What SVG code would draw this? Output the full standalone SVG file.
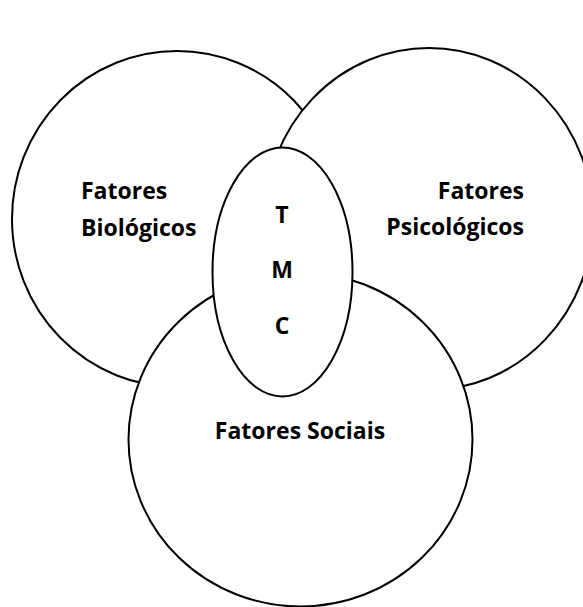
<svg xmlns="http://www.w3.org/2000/svg" width="583" height="607" viewBox="0 0 583 607">
  <style>
    .shape { fill: #ffffff; stroke: #000000; stroke-width: 2; }
    .lbl { font-family: "Open Sans", "Noto Sans", "Liberation Sans", sans-serif; font-weight: 700; font-size: 23px; fill: #000000; }
  </style>
  <rect x="0" y="0" width="583" height="607" fill="#ffffff"/>
  <g id="biologicos">
    <ellipse class="shape" cx="177" cy="219" rx="165" ry="168"/>
    <text class="lbl" x="81" y="199">Fatores</text>
    <text class="lbl" x="81" y="236">Biológicos</text>
  </g>
  <g id="psicologicos">
    <ellipse class="shape" cx="429" cy="219" rx="164" ry="171"/>
    <text class="lbl" x="524" y="199" text-anchor="end">Fatores</text>
    <text class="lbl" x="524" y="235" text-anchor="end">Psicológicos</text>
  </g>
  <g id="sociais">
    <ellipse class="shape" cx="300.5" cy="439.5" rx="172" ry="167"/>
    <text class="lbl" x="300" y="439" text-anchor="middle">Fatores Sociais</text>
  </g>
  <g id="tmc">
    <ellipse class="shape" cx="282.5" cy="272" rx="70" ry="124.5"/>
    <text class="lbl" x="282" y="223" text-anchor="middle">T</text>
    <text class="lbl" x="282" y="278" text-anchor="middle">M</text>
    <text class="lbl" x="282" y="334" text-anchor="middle">C</text>
  </g>
  <g id="connectors"/>
</svg>
